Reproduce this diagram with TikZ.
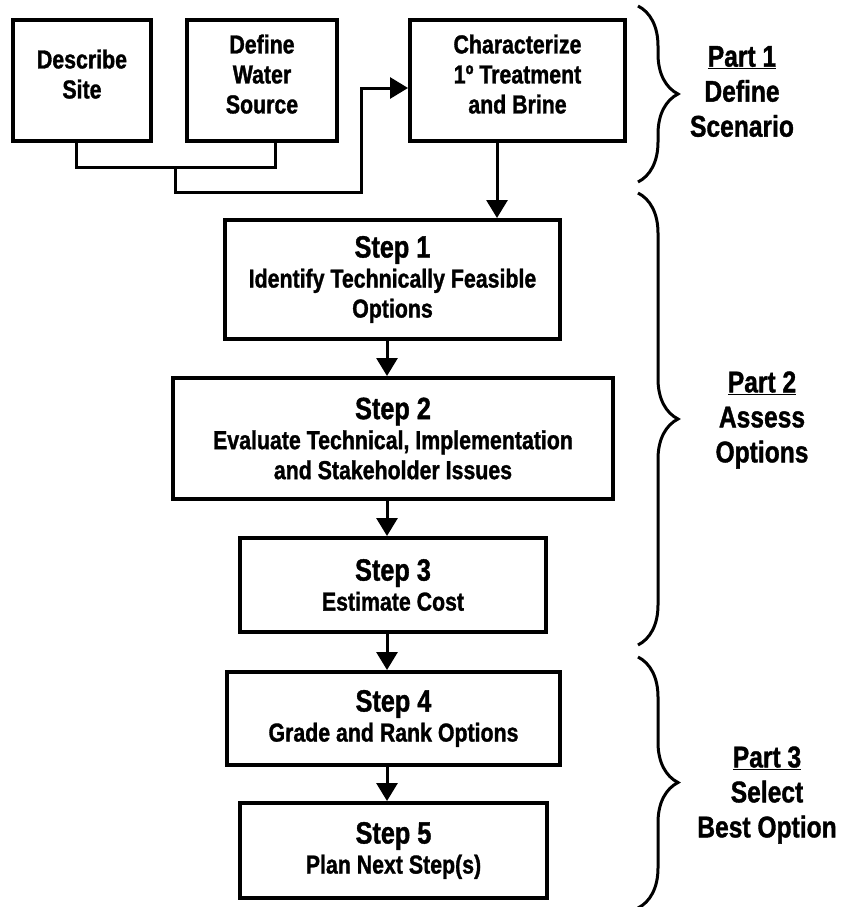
\documentclass[tikz,border=0pt]{standalone}
\usepackage{fontspec}
\setmainfont{Liberation Sans}[FakeStretch=0.82, BoldFeatures={FakeBold=1.2}]
\usetikzlibrary{arrows.meta,decorations.pathreplacing}

\def\bodyfont{\fontsize{26}{30}\selectfont\bfseries}
\def\titlefont{\fontsize{30.8}{31}\selectfont}
\def\partfont{\fontsize{30}{35}\selectfont\bfseries}
\colorlet{box edge}{black}
\tikzset{box/.style={draw=box edge, line width=4pt, align=center, inner sep=0pt, font=\bodyfont},
    topbox/.style={box, minimum height=121pt, text depth=13pt},
    link/.style={draw=box edge, line width=3pt},
    arr/.style={link, -{Triangle[length=18pt,width=21pt]}},
    partbrace/.style={draw=box edge, line width=3pt, decorate, decoration={brace, amplitude=40pt}},
    partlabel/.style={align=center, font=\partfont}}

\begin{document}
\begin{tikzpicture}[x=1pt, y=1pt]
    \useasboundingbox (0,0) rectangle (842,-907);
    % part 1: scenario boxes
    \node[topbox, minimum width=138pt] (site) at (82,-80.5) {Describe\\Site};
    \node[topbox, minimum width=150pt] (water) at (262,-80.5) {Define\\Water\\Source};
    \node[topbox, minimum width=215pt] (brine) at (517.5,-80.5) {Characterize\\1º Treatment\\and Brine};
    % steps
    \node[box, minimum width=335pt, minimum height=119pt] (step1) at (392.5,-279.5)
        {{\titlefont Step 1}\\Identify Technically Feasible\\Options};
    \node[box, minimum width=440pt, minimum height=121pt] (step2) at (393,-438.5)
        {{\titlefont Step 2}\\Evaluate Technical, Implementation\\and Stakeholder Issues};
    \node[box, minimum width=306pt, minimum height=94pt] (step3) at (393,-585)
        {{\titlefont Step 3}\\Estimate Cost};
    \node[box, minimum width=333pt, minimum height=93pt] (step4) at (393.5,-718.5)
        {{\titlefont Step 4}\\Grade and Rank Options};
    \node[box, minimum width=307pt, minimum height=95pt] (step5) at (393.5,-850.5)
        {{\titlefont Step 5}\\Plan Next Step(s)};

    % connectors
    \coordinate (join) at (175,-167);
    \coordinate (bend) at (361,-192);
    \coordinate (spine) at (387,0);
    \draw[link] ([xshift=-6pt]site.south) |- (join) -| ([xshift=13pt]water.south);
    \draw[arr] (join) |- (bend) |- ([yshift=-7.5pt]brine.west);
    \draw[arr] ([xshift=-20.5pt]brine.south) -- ([xshift=-20.5pt]brine.south |- step1.north);
    \draw[arr] (step1.south -| spine) -- (step2.north -| spine);
    \draw[arr] (step2.south -| spine) -- (step3.north -| spine);
    \draw[arr] (step3.south -| spine) -- (step4.north -| spine);
    \draw[arr] (step4.south -| spine) -- (step5.north -| spine);

    % braces and part labels
    \draw[partbrace] (638,-6) -- (638,-182);
    \draw[partbrace] (638,-193) -- (638,-645);
    \draw[partbrace] (638,-657) -- (638,-908);
    \node[partlabel] (part1) at (742,-91.5) {\underline{Part 1}\\Define\\Scenario};
    \node[partlabel] (part2) at (762,-420) {\underline{Part 2}\\Assess\\Options};
    \node[partlabel] (part3) at (767,-795) {\underline{Part 3}\\Select\\Best Option};
\end{tikzpicture}
\end{document}
